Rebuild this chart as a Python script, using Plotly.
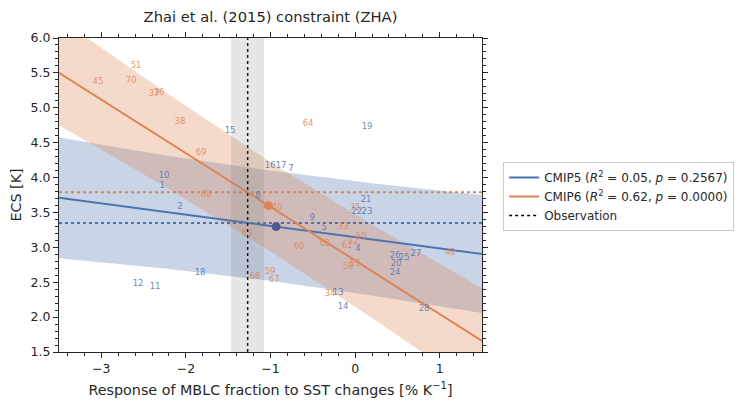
import plotly.graph_objects as go

# ---------------- data ----------------
band_x = [-3.5, -2.25, -1.0, 0.25, 1.5]

cmip5_line_x = [-3.5, 1.5]
cmip5_line_y = [3.71, 2.905]
cmip5_upper = [4.575, 4.318, 4.10, 3.912, 3.75]
cmip5_lower = [2.845, 2.698, 2.52, 2.300, 2.06]

cmip6_line_x = [-3.5, 1.5]
cmip6_line_y = [5.50, 1.66]
cmip6_upper = [6.28, 5.23, 4.22, 3.292, 2.415]
cmip6_lower = [4.75, 3.872, 2.94, 1.948, 0.905]

cmip5_labels = ["1", "2", "4", "5", "7", "8", "9", "10", "11", "12", "13", "14", "15",
                "16", "17", "18", "19", "20", "21", "22", "23", "24", "25", "26", "27", "28"]
cmip5_x = [-2.28, -2.07, 0.035, -0.366, -0.757, -1.147, -0.508, -2.258, -2.364, -2.565,
           -0.20, -0.142, -1.478, -1.005, -0.875, -1.832, 0.142, 0.485, 0.13, 0.02,
           0.14, 0.473, 0.58, 0.473, 0.72, 0.815]
cmip5_y = [3.88, 3.58, 2.98, 3.28, 4.12, 3.74, 3.42, 4.02, 2.43, 2.48,
           2.35, 2.15, 4.67, 4.17, 4.17, 2.63, 4.72, 2.76, 3.68, 3.51,
           3.51, 2.63, 2.85, 2.88, 2.905, 2.12]

cmip6_labels = ["32", "33", "34", "35", "36", "37", "38", "40", "45", "48", "50", "51",
                "53", "58", "59", "60", "61", "62", "63", "64", "66", "67", "68", "69", "70"]
cmip6_x = [-0.024, -0.142, -0.296, 0.0, -2.317, -2.376, -2.07, -0.922, -3.04, 1.123,
           0.07, -2.589, 0.0, -0.083, -1.005, -0.662, -0.095, -0.355, -1.277, -0.556,
           -1.182, -0.957, -1.76, -1.82, -2.648]
cmip6_y = [3.08, 3.29, 2.33, 3.56, 5.21, 5.20, 4.80, 3.56, 5.37, 2.92,
           3.15, 5.60, 2.77, 2.72, 2.65, 3.01, 3.02, 3.05, 3.19, 4.77,
           2.58, 2.53, 3.75, 4.35, 5.38]

cmip5_mean = (-0.934, 3.297)
cmip6_mean = (-1.025, 3.598)

obs_x = -1.27
obs_err = 0.195
cmip5_constrained = 3.35
cmip6_constrained = 3.79

x_range = [-3.5, 1.5]
y_range = [1.5, 6.0]
x_ticks = [-3, -2, -1, 0, 1]
y_ticks = [1.5, 2.0, 2.5, 3.0, 3.5, 4.0, 4.5, 5.0, 5.5, 6.0]

BLUE = "#4c72b0"
ORANGE = "#dd8452"
TXT = "#262626"
FONT = "DejaVu Sans"

fig = go.Figure()

# prediction bands
fig.add_trace(go.Scatter(x=band_x + band_x[::-1], y=cmip5_upper + cmip5_lower[::-1],
                         fill="toself", fillcolor="rgba(76,114,176,0.3)",
                         line=dict(width=0), mode="lines", hoverinfo="skip", showlegend=False))
fig.add_trace(go.Scatter(x=band_x + band_x[::-1], y=cmip6_upper + cmip6_lower[::-1],
                         fill="toself", fillcolor="rgba(221,132,82,0.3)",
                         line=dict(width=0), mode="lines", hoverinfo="skip", showlegend=False))

# horizontal constrained lines
fig.add_trace(go.Scatter(x=x_range, y=[cmip6_constrained] * 2, mode="lines",
                         line=dict(color=ORANGE, width=2, dash="dot"), showlegend=False))
fig.add_trace(go.Scatter(x=x_range, y=[cmip5_constrained] * 2, mode="lines",
                         line=dict(color=BLUE, width=2, dash="dot"), showlegend=False))

# regression lines
fig.add_trace(go.Scatter(x=cmip5_line_x, y=cmip5_line_y, mode="lines",
                         line=dict(color=BLUE, width=2),
                         name="CMIP5 (<i>R</i><sup>2</sup> = 0.05, <i>p</i> = 0.2567)"))
fig.add_trace(go.Scatter(x=cmip6_line_x, y=cmip6_line_y, mode="lines",
                         line=dict(color=ORANGE, width=2),
                         name="CMIP6 (<i>R</i><sup>2</sup> = 0.62, <i>p</i> = 0.0000)"))

# observation line
fig.add_trace(go.Scatter(x=[obs_x, obs_x], y=y_range, mode="lines",
                         line=dict(color="black", width=1.5, dash="dot"), name="Observation"))

# model labels
fig.add_trace(go.Scatter(x=cmip5_x, y=cmip5_y, text=cmip5_labels, mode="text",
                         textfont=dict(family=FONT, size=8.5, color="rgba(76,114,176,0.85)"),
                         showlegend=False, textposition="middle center"))
fig.add_trace(go.Scatter(x=cmip6_x, y=cmip6_y, text=cmip6_labels, mode="text",
                         textfont=dict(family=FONT, size=8.5, color="rgba(221,132,82,0.85)"),
                         showlegend=False, textposition="middle center"))

# means
fig.add_trace(go.Scatter(x=[cmip5_mean[0]], y=[cmip5_mean[1]], mode="markers",
                         marker=dict(color="#4b5b93", size=9), showlegend=False))
fig.add_trace(go.Scatter(x=[cmip6_mean[0]], y=[cmip6_mean[1]], mode="markers",
                         marker=dict(color=ORANGE, size=9), showlegend=False))

# observational uncertainty band
fig.add_vrect(x0=obs_x - obs_err, x1=obs_x + obs_err, fillcolor="rgba(128,128,128,0.2)",
              line_width=0, layer="above")

axis_common = dict(showline=True, linecolor="#262626", linewidth=1, mirror="ticks",
                   ticks="outside", ticklen=5, tickwidth=1, tickcolor="#262626",
                   showgrid=False, zeroline=False, automargin=False,
                   tickfont=dict(family=FONT, size=12.5, color=TXT))

fig.update_xaxes(range=x_range, tickvals=x_ticks,
                 minor=dict(ticks="outside", dtick=0.2, ticklen=3, tickcolor="#262626"),
                 title=dict(text="Response of MBLC fraction to SST changes [% K<sup>\u22121</sup>]",
                            font=dict(family=FONT, size=14.3, color=TXT), standoff=9),
                 **axis_common)
fig.update_yaxes(range=y_range, tickvals=y_ticks, tickformat=".1f",
                 minor=dict(ticks="outside", dtick=0.1, ticklen=3, tickcolor="#262626"),
                 title=dict(text="ECS [K]", font=dict(family=FONT, size=14.3, color=TXT), standoff=5),
                 **axis_common)

fig.update_layout(
    width=744, height=402,
    margin=dict(l=51, r=270, t=30, b=58),
    paper_bgcolor="white", plot_bgcolor="white",
    title=dict(text="Zhai et al. (2015) constraint (ZHA)", x=0.5, xref="paper",
               y=1 - 9 / 402, yref="container", yanchor="middle",
               font=dict(family=FONT, size=14.7, color=TXT)),
    legend=dict(x=1.05, y=0.605, xanchor="left", yanchor="top",
                bordercolor="#cccccc", borderwidth=1, bgcolor="white",
                font=dict(family=FONT, size=12, color=TXT),
                tracegroupgap=0, itemwidth=30),
    showlegend=True,
)

fig.write_html("out.html")
